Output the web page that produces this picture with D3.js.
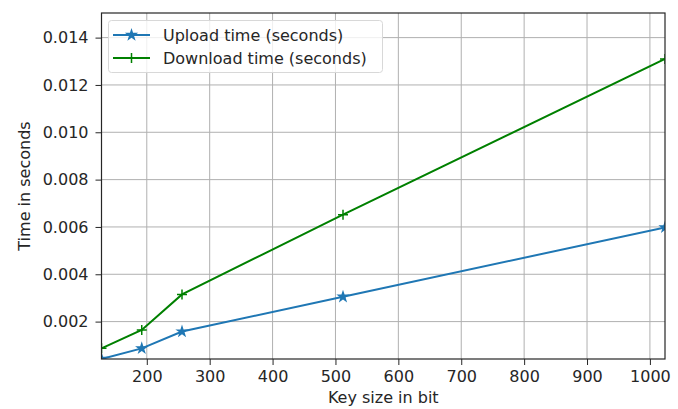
<!DOCTYPE html>
<html><head><meta charset="utf-8">
<script src="https://cdn.jsdelivr.net/npm/d3@7/dist/d3.min.js"></script>
<style>body{margin:0;background:#fff}svg{display:block}text{font-family:"DejaVu Sans",sans-serif;fill:#262626}</style>
</head><body>
<svg id="c" width="678" height="409"></svg>
<script>
const keySizes = [128, 192, 256, 512, 1024];
const uploadTimes = [0.00042, 0.00087, 0.00158, 0.00305, 0.00598];
const downloadTimes = [0.00087, 0.00165, 0.00315, 0.00652, 0.01310];
const seriesNames = ["Upload time (seconds)", "Download time (seconds)"];
const xTicks = [200, 300, 400, 500, 600, 700, 800, 900, 1000];
const yTicks = [0.002, 0.004, 0.006, 0.008, 0.010, 0.012, 0.014];

const svg = d3.select("#c");
const L = 101.5, R = 665, T = 13, B = 359;
const FS = 16;
const x = d3.scaleLinear().domain([128, 1024]).range([L, R]);
const y = d3.scaleLinear().domain([0.00042, 0.01504]).range([B, T]);

// grid
svg.append("g").selectAll("line").data(xTicks).join("line")
  .attr("x1", d => x(d)).attr("x2", d => x(d)).attr("y1", T).attr("y2", B)
  .attr("stroke", "#b0b0b0").attr("stroke-width", 1);
svg.append("g").selectAll("line").data(yTicks).join("line")
  .attr("y1", d => y(d)).attr("y2", d => y(d)).attr("x1", L).attr("x2", R)
  .attr("stroke", "#b0b0b0").attr("stroke-width", 1);

// axes
const xa = svg.append("g").attr("transform", `translate(0,${B})`)
  .call(d3.axisBottom(x).tickValues(xTicks).tickSize(6).tickPadding(5.5).tickFormat(d3.format("d")));
const ya = svg.append("g").attr("transform", `translate(${L},0)`)
  .call(d3.axisLeft(y).tickValues(yTicks).tickSize(6).tickPadding(7).tickFormat(d3.format(".3f")));
[xa, ya].forEach(a => {
  a.select(".domain").remove();
  a.selectAll("line").attr("stroke", "#262626");
  a.selectAll("text").attr("font-size", FS).attr("font-family", "DejaVu Sans").attr("fill", "#262626");
});

// lines
const line = d3.line().x(d => x(d[0])).y(d => y(d[1]));
const upData = keySizes.map((k, i) => [k, uploadTimes[i]]);
const dnData = keySizes.map((k, i) => [k, downloadTimes[i]]);
svg.append("clipPath").attr("id", "cp").append("rect")
  .attr("x", L).attr("y", T).attr("width", R - L).attr("height", B - T);
const plot = svg.append("g").attr("clip-path", "url(#cp)");
const upColor = "#1f77b4", dnColor = "#008000";
plot.append("path").datum(upData).attr("d", line).attr("fill", "none").attr("stroke", upColor).attr("stroke-width", 2);
plot.append("path").datum(dnData).attr("d", line).attr("fill", "none").attr("stroke", dnColor).attr("stroke-width", 2);
const star = d3.symbol().type(d3.symbolStar).size(55);
plot.selectAll(".up").data(upData).join("path")
  .attr("transform", d => `translate(${x(d[0])},${y(d[1])})`).attr("d", star).attr("fill", upColor);
const plus = (cx, cy, s) => `M${cx - s},${cy}H${cx + s}M${cx},${cy - s}V${cy + s}`;
plot.selectAll(".dn").data(dnData).join("path")
  .attr("d", d => plus(x(d[0]), y(d[1]), 5)).attr("stroke", dnColor).attr("stroke-width", 1.5);

// frame
svg.append("rect").attr("x", L).attr("y", T).attr("width", R - L).attr("height", B - T)
  .attr("fill", "none").attr("stroke", "#262626").attr("stroke-width", 1.2);

// labels
svg.append("text").attr("x", (L + R) / 2).attr("y", 403).attr("text-anchor", "middle")
  .attr("font-size", FS).text("Key size in bit");
svg.append("text").attr("transform", `translate(30,${(T + B) / 2}) rotate(-90)`).attr("text-anchor", "middle")
  .attr("font-size", FS).text("Time in seconds");

// legend
const lg = svg.append("g");
lg.append("rect").attr("x", 108.5).attr("y", 20.5).attr("width", 274).attr("height", 52).attr("rx", 3)
  .attr("fill", "#fff").attr("fill-opacity", 0.8).attr("stroke", "#d8d8d8");
[[upColor, "star"], [dnColor, "plus"]].forEach((c, i) => {
  const cy = 35 + i * 23;
  lg.append("line").attr("x1", 113).attr("x2", 150).attr("y1", cy).attr("y2", cy).attr("stroke", c[0]).attr("stroke-width", 2);
  if (c[1] === "star") lg.append("path").attr("transform", `translate(131.5,${cy})`).attr("d", star).attr("fill", c[0]);
  else lg.append("path").attr("d", plus(131.5, cy, 5)).attr("stroke", c[0]).attr("stroke-width", 1.5);
  lg.append("text").attr("x", 163).attr("y", cy + 6).attr("font-size", FS).text(seriesNames[i]);
});
</script>
</body></html>
